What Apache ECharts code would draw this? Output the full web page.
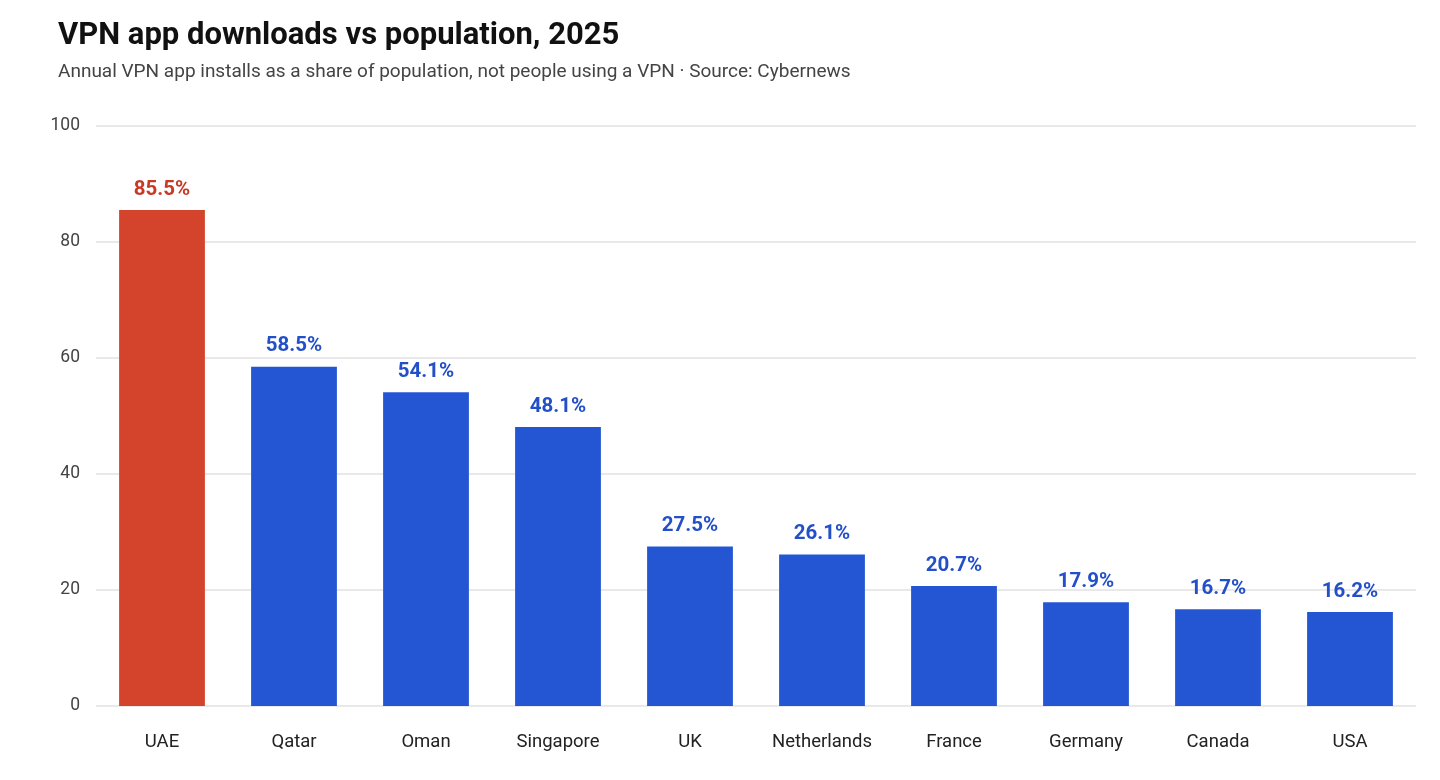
<!DOCTYPE html>
<html>
<head>
<meta charset="utf-8">
<script src="https://cdn.jsdelivr.net/npm/echarts@6/dist/echarts.min.js"></script>
<style>
  html, body { margin: 0; padding: 0; background: #fff; }
  #chart { width: 1440px; height: 780px; }
</style>
</head>
<body>
<div id="chart"></div>
<script>
var countries = ['UAE', 'Qatar', 'Oman', 'Singapore', 'UK', 'Netherlands', 'France', 'Germany', 'Canada', 'USA'];
var share = [85.5, 58.5, 54.1, 48.1, 27.5, 26.1, 20.7, 17.9, 16.7, 16.2];
var highlight = 'UAE';
var yTicks = [0, 20, 40, 60, 80, 100];

var RED = '#D4442C';
var BLUE = '#2456D4';

var chart = echarts.init(document.getElementById('chart'));

// bars: highlighted country in red, the rest blue
var barData = [];
for (var i = 0; i < countries.length; i++) {
  var hot = countries[i] == highlight;
  barData.push({
    value: share[i],
    itemStyle: { color: hot ? RED : BLUE },
    label: { color: hot ? '#C83A26' : '#2350C8' }
  });
}

var option = {
  backgroundColor: '#fff',
  textStyle: { fontFamily: 'Roboto' },
  title: {
    text: 'VPN app downloads vs population, 2025',
    subtext: 'Annual VPN app installs as a share of population, not people using a VPN · Source: Cybernews',
    left: 53,
    top: 16,
    itemGap: 11,
    textStyle: { fontFamily: 'Roboto', fontSize: 31, fontWeight: 'bold', color: '#111' },
    subtextStyle: { fontFamily: 'Roboto', fontSize: 19, color: '#444' }
  },
  grid: {
    left: 96,
    right: 24,
    top: 126,
    bottom: 74,
    containLabel: false
  },
  xAxis: {
    type: 'category',
    data: countries,
    axisLine: { show: false },
    axisTick: { show: false },
    axisLabel: { color: '#222', fontSize: 18.5, margin: 27 }
  },
  yAxis: {
    type: 'value',
    min: yTicks[0],
    max: yTicks[yTicks.length - 1],
    interval: 20,
    axisLine: { show: false },
    axisTick: { show: false },
    axisLabel: { color: '#444', fontSize: 17.5, margin: 16 },
    splitLine: { lineStyle: { color: '#e2e2e2', width: 1.5 } }
  },
  series: [{
    type: 'bar',
    data: barData,
    barCategoryGap: '35%',
    label: {
      show: true,
      position: 'top',
      distance: 10,
      fontSize: 20.5,
      fontWeight: 'bold',
      formatter: function (p) { return p.value.toFixed(1) + '%'; }
    }
  }],
  animation: false
};

chart.setOption(option);
</script>
</body>
</html>
